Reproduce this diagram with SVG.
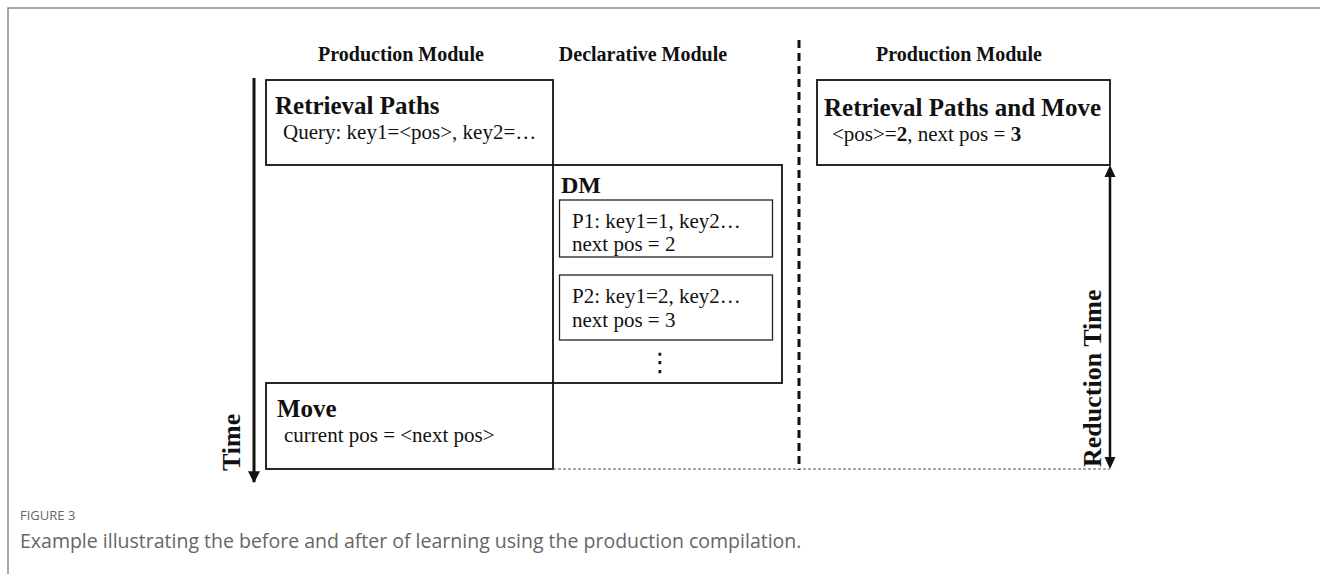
<svg xmlns="http://www.w3.org/2000/svg" width="1320" height="574" viewBox="0 0 1320 574">
<style>
.box{fill:none;stroke:#111;stroke-width:1.8}
.ibox{fill:none;stroke:#222;stroke-width:1.3}
.hd{font-family:"Liberation Serif",serif;font-weight:bold;font-size:20px;fill:#111;text-anchor:middle}
.tt{font-family:"Liberation Serif",serif;font-weight:bold;font-size:25px;fill:#111}
.tx{font-family:"Liberation Serif",serif;font-size:21px;fill:#111}
.cap{font-family:"Open Sans",sans-serif;fill:#666}
</style>
<defs>
<marker id="ah" viewBox="0 0 10 10" refX="9" refY="5" markerWidth="4" markerHeight="4.5" orient="auto" markerUnits="strokeWidth">
<path d="M0,0 L10,5 L0,10 z" fill="#111"/>
</marker>
</defs>
<rect width="1320" height="574" fill="#fff"/>
<path d="M8,574 V8 H1320" fill="none" stroke="#8a8a8a" stroke-width="1.5"/>

<g id="headers">
<text class="hd" x="401" y="61">Production Module</text>
<text class="hd" x="643" y="61">Declarative Module</text>
<text class="hd" x="959" y="61">Production Module</text>
</g>

<g id="retrieval">
<rect class="box" x="266" y="80" width="287" height="85"/>
<text class="tt" x="275" y="114">Retrieval Paths</text>
<text class="tx" x="283" y="139">Query: key1=&lt;pos&gt;, key2=…</text>
</g>

<g id="dm">
<rect class="box" x="553" y="165" width="229" height="218"/>
<text class="tt" x="561" y="193" style="font-size:24px">DM</text>
<g id="p1">
<rect class="ibox" x="559.5" y="200" width="213" height="57"/>
<text class="tx" x="572" y="228">P1: key1=1, key2…</text>
<text class="tx" x="572" y="251">next pos = 2</text>
</g>
<g id="p2">
<rect class="ibox" x="559.5" y="275" width="213" height="65"/>
<text class="tx" x="572" y="303">P2: key1=2, key2…</text>
<text class="tx" x="572" y="327">next pos = 3</text>
</g>
<text x="660" y="371" style="font-family:'DejaVu Sans',sans-serif;font-size:26px;fill:#111;text-anchor:middle">⋮</text>
</g>

<g id="move">
<rect class="box" x="266" y="383" width="287" height="86"/>
<text class="tt" x="277" y="417">Move</text>
<text class="tx" x="284" y="442">current pos = &lt;next pos&gt;</text>
</g>

<g id="compiled">
<rect class="box" x="817" y="80" width="293" height="85"/>
<text class="tt" x="824" y="116">Retrieval Paths and Move</text>
<text class="tx" x="832" y="141">&lt;pos&gt;=<tspan font-weight="bold">2</tspan>, next pos = <tspan font-weight="bold">3</tspan></text>
</g>

<g id="connectors">
<line x1="254" y1="78" x2="254" y2="482" stroke="#111" stroke-width="3" marker-end="url(#ah)"/>
<line x1="799" y1="40" x2="799" y2="470" stroke="#111" stroke-width="3" stroke-dasharray="8,5"/>
<line x1="553" y1="469" x2="1110" y2="469" stroke="#555" stroke-width="1" stroke-dasharray="3,2"/>
<line x1="1110" y1="175" x2="1110" y2="459" stroke="#111" stroke-width="2.5"/>
<path d="M1110,165 L1104.5,177 L1115.5,177 z" fill="#111"/>
<path d="M1110,469 L1104.5,457 L1115.5,457 z" fill="#111"/>
</g>

<g id="labels">
<text class="tt" transform="translate(240,471) rotate(-90)" style="font-size:26px">Time</text>
<text class="tt" transform="translate(1101,467) rotate(-90)" style="font-size:26px">Reduction Time</text>
</g>

<g id="caption">
<text class="cap" x="20" y="520" style="font-size:13px">FIGURE 3</text>
<text class="cap" x="20" y="548" style="font-size:19.5px">Example illustrating the before and after of learning using the production compilation.</text>
</g>
</svg>
